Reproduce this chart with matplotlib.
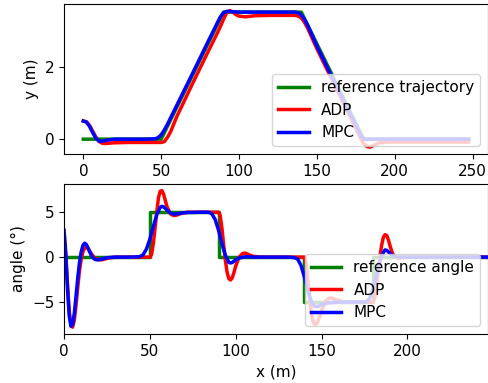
import matplotlib
matplotlib.use("Agg")
import matplotlib.pyplot as plt

plt.rcParams['font.size'] = 11

# ---------- top: lateral position ----------
ref_x = [0, 50, 90, 140, 180, 247.5]
ref_y = [0, 0, 3.5, 3.5, 0, 0]

adp_x = [0, 2, 4, 6, 8, 10, 12, 14, 17, 20, 30, 40, 50, 52, 54, 56, 60, 70, 80, 86, 88, 90,
         92, 94, 96, 98, 100, 104, 110, 120, 130, 136, 138, 140, 142, 144, 150, 160, 170,
         176, 178, 180, 182, 184, 186, 190, 195, 200, 247.5]
adp_y = [0.5, 0.48, 0.38, 0.22, 0.06, -0.06, -0.11, -0.12, -0.11, -0.1, -0.09, -0.09, -0.09,
         -0.07, 0.05, 0.2, 0.62, 1.52, 2.4, 2.92, 3.1, 3.3, 3.48, 3.54, 3.5, 3.43, 3.39, 3.37,
         3.4, 3.41, 3.41, 3.41, 3.39, 3.34, 3.22, 3.06, 2.49, 1.61, 0.73, 0.2, 0.03, -0.12,
         -0.2, -0.22, -0.18, -0.1, -0.08, -0.08, -0.08]

mpc_x = [0, 2, 4, 6, 8, 10, 12, 15, 20, 30, 40, 46, 48, 50, 52, 54, 60, 70, 80, 86, 88, 90,
         92, 94, 96, 100, 110, 120, 130, 136, 138, 140, 142, 144, 150, 160, 170, 176, 178,
         180, 182, 184, 186, 190, 200, 247.5]
mpc_y = [0.5, 0.47, 0.35, 0.18, 0.03, -0.05, -0.06, -0.03, 0.0, 0.0, 0.0, 0.01, 0.04, 0.12,
         0.25, 0.41, 0.93, 1.8, 2.68, 3.2, 3.37, 3.48, 3.52, 3.52, 3.51, 3.5, 3.5, 3.5, 3.5,
         3.5, 3.48, 3.42, 3.3, 3.14, 2.56, 1.68, 0.81, 0.3, 0.11, 0.02, -0.01, 0.0, 0.0, 0.0,
         0.0, 0.0]

# ---------- bottom: heading angle ----------
ang_ref_x = [0, 50, 90, 140, 180, 247]
ang_ref = [0, 5, 0, -5, 0, 0]

adp_ax = [0, 1, 2, 3, 4, 5, 6, 7, 8, 9, 10, 11, 12, 13, 14, 15, 16, 17, 18, 20, 22, 24, 26,
          30, 50, 51, 52, 53, 54, 55, 56, 57, 58, 59, 60, 62, 64, 66, 68, 72, 90, 91, 92, 93,
          94, 95, 96, 97, 98, 99, 100, 102, 104, 105, 106, 108, 110, 114, 140, 141, 142, 143,
          144, 145, 146, 147, 148, 150, 152, 154, 156, 158, 162, 166, 180, 181, 182, 183, 184,
          185, 186, 187, 188, 189, 190, 191, 192, 194, 196, 200, 247]
adp_ang = [2.5, 0.0, -3.0, -6.0, -7.5, -7.8, -7.0, -5.3, -3.3, -1.5, -0.2, 0.6, 1.0, 1.1,
           0.95, 0.65, 0.35, 0.1, -0.1, -0.28, -0.3, -0.2, -0.1, 0.0, 0.0, 0.3, 1.5, 3.2, 5.0,
           6.6, 7.35, 7.4, 7.0, 6.3, 5.6, 4.8, 4.62, 4.7, 4.85, 5.0, 5.0, 4.6, 3.2, 1.3, -0.4,
           -1.7, -2.4, -2.55, -2.3, -1.7, -1.0, 0.0, 0.4, 0.45, 0.42, 0.25, 0.1, 0.0, 0.0,
           -0.6, -2.5, -4.5, -6.2, -7.1, -7.5, -7.45, -7.1, -6.0, -5.0, -4.6, -4.55, -4.7,
           -4.95, -5.0, -5.0, -4.6, -3.2, -1.5, 0.0, 1.3, 2.2, 2.5, 2.4, 1.9, 1.2, 0.6, 0.2,
           -0.1, -0.1, 0.0, 0.0]

mpc_ax = [0, 1, 2, 3, 4, 5, 6, 7, 8, 9, 10, 11, 12, 13, 14, 15, 16, 17, 18, 19, 20, 22, 24,
          26, 30, 40, 44, 46, 48, 50, 52, 54, 56, 57, 58, 60, 62, 64, 66, 70, 80, 84, 86, 88,
          90, 92, 94, 96, 97, 98, 100, 102, 106, 110, 130, 134, 136, 138, 140, 142, 144, 146,
          148, 150, 154, 160, 176, 178, 180, 182, 184, 186, 187, 188, 190, 192, 195, 247]
mpc_ang = [3.0, 0.5, -3.5, -6.5, -7.7, -7.5, -6.2, -4.3, -2.3, -0.6, 0.6, 1.3, 1.55, 1.4,
           1.0, 0.55, 0.15, -0.1, -0.25, -0.3, -0.3, -0.22, -0.12, -0.05, 0.0, 0.0, 0.05,
           0.25, 0.9, 2.0, 3.4, 4.7, 5.55, 5.65, 5.6, 5.25, 4.9, 4.78, 4.82, 4.95, 5.0, 5.0,
           4.85, 4.2, 3.0, 1.5, 0.2, -0.6, -0.65, -0.6, -0.3, -0.1, 0.05, 0.0, 0.0, -0.05,
           -0.2, -0.9, -2.2, -3.7, -4.9, -5.5, -5.5, -5.3, -5.1, -5.0, -5.0, -4.6, -3.5, -2.0,
           -0.5, 0.5, 0.8, 0.75, 0.4, 0.1, 0.0, 0.0]

fig = plt.figure(figsize=(4.89, 3.83), dpi=100)
ax1 = fig.add_axes([0.131, 0.598, 0.867, 0.392])
ax2 = fig.add_axes([0.131, 0.128, 0.867, 0.392])

lw = 2.5
ax1.plot(ref_x, ref_y, color='green', lw=lw, label='reference trajectory')
ax1.plot(adp_x, adp_y, color='red', lw=lw, label='ADP')
ax1.plot(mpc_x, mpc_y, color='blue', lw=lw, label='MPC')
ax1.set_ylabel('y (m)')
ax1.set_xticks([0, 50, 100, 150, 200, 250])
ax1.legend(loc='lower right', handlelength=2.0)

ax2.plot(ang_ref_x, ang_ref, color='green', lw=lw, drawstyle='steps-post', label='reference angle')
ax2.plot(adp_ax, adp_ang, color='red', lw=lw, label='ADP')
ax2.plot(mpc_ax, mpc_ang, color='blue', lw=lw, label='MPC')
ax2.set_xlim(0, 247)
ax2.set_xlabel('x (m)')
ax2.set_ylabel('angle (°)')
ax2.legend(loc='lower right', handlelength=2.0)

fig.savefig('out.png', dpi=100)
